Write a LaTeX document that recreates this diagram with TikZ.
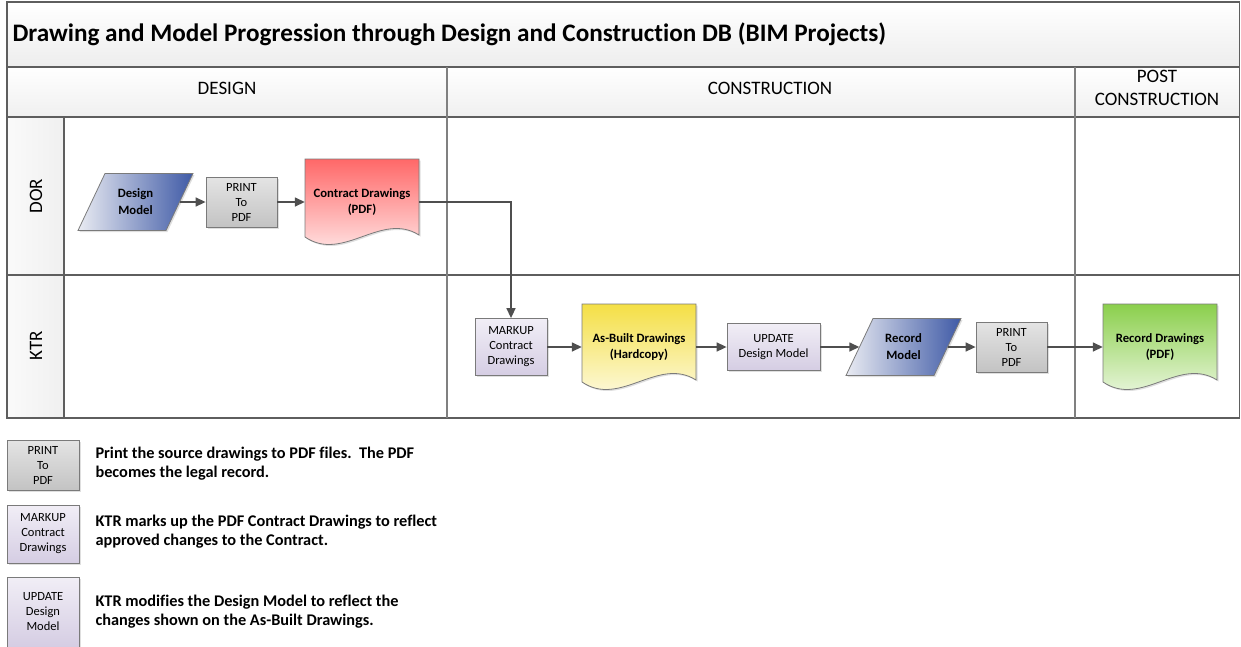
\documentclass[tikz,border=0pt]{standalone}
\usepackage{fontspec}
\setmainfont{Carlito}[Ligatures={TeX,NoCommon}]
\usetikzlibrary{arrows.meta,shadows}

\definecolor{framegray}{HTML}{5E5E5E}
\definecolor{boxline}{HTML}{7A7A7A}
\definecolor{flowgray}{HTML}{4F4F4F}
\definecolor{modellight}{HTML}{E9EBF2}
\definecolor{modeldark}{HTML}{3F5AA6}
\definecolor{printtop}{HTML}{E4E4E4}
\definecolor{printbot}{HTML}{C3C3C3}
\definecolor{edittop}{HTML}{F1EEF6}
\definecolor{editbot}{HTML}{D5CDE3}
\definecolor{pdfred}{HTML}{FF6868}
\definecolor{hardyellow}{HTML}{F4DF45}
\definecolor{recgreen}{HTML}{8BCF4C}

\newcommand{\docbox}[6]{%
                \shade[docline, top color=#4, bottom color=#4!8] (#2,#3) -- (#2+114,#3) -- (#2+114,#3+76)
                    .. controls (#2+76,#3+52) and (#2+38,#3+104) .. (#2,#3+78) -- cycle;
                \node (#1) at (#2+57,#3+43) [doctext] {\raisebox{9pt}{\begin{tabular}{@{}c@{}}#5\\#6\end{tabular}}};
}
\newcommand{\modelbox}[4]{%
                \shade[docline, left color=modellight, right color=modeldark] (#2-30.5,#3-28.5) -- (#2+57.5,#3-28.5)
                    -- (#2+30.5,#3+28.5) -- (#2-57.5,#3+28.5) -- cycle;
                \node (#1) at (#2,#3) [modeltext] {#4};
}

\begin{document}
\begin{tikzpicture}[x=1pt, y=-1pt,
                frame/.style={draw=framegray, line width=1.2pt},
                flow/.style={draw=flowgray, line width=1.5pt, -{Triangle[length=10pt,width=9pt]}},
                softshadow/.style={drop shadow={shadow xshift=1.5pt, shadow yshift=-1.5pt, opacity=0.25}},
                docline/.style={draw=boxline, line width=0.8pt, softshadow},
                stepbox/.style={draw=boxline, line width=0.8pt, top color=printtop, bottom color=printbot,
                    align=center, inner sep=0pt, font=\fontsize{12.5}{15}\selectfont, softshadow},
                editbox/.style={stepbox, top color=edittop, bottom color=editbot},
                doctext/.style={minimum width=114pt, minimum height=86pt, inner sep=0pt,
                    font=\bfseries\fontsize{12.7}{16}\selectfont},
                modeltext/.style={minimum width=88pt, minimum height=57pt, inner sep=0pt, align=center,
                    font=\bfseries\fontsize{12.7}{17}\selectfont},
                lanehead/.style={align=center, font=\fontsize{19}{23}\selectfont},
                legendtext/.style={anchor=west, align=left, font=\bfseries\fontsize{16.3}{19}\selectfont}]

                \useasboundingbox (0,0) rectangle (1241,646);

                \shade[top color=white, bottom color=gray!14] (7,2) rectangle (1239.5,67);
                \shade[top color=white, bottom color=gray!12] (7,67) rectangle (1239.5,117);
                \shade[left color=gray!4, right color=gray!12] (7,117) rectangle (64,418);
                \draw[frame] (7,2) rectangle (1239.5,418);
                \draw[frame] (7,67) -- (1239.5,67);
                \draw[frame] (7,117) -- (1239.5,117);
                \draw[frame] (7,275) -- (1239.5,275);
                \draw[frame] (64,117) -- (64,418);
                \draw[frame, draw=gray] (447,67) -- (447,418);
                \draw[frame, draw=gray] (1075,67) -- (1075,418);

                \node (title) at (9,34) [anchor=west, font=\bfseries\fontsize{25.2}{30}\selectfont]
                    {Drawing and Model Progression through Design and Construction DB (BIM Projects)};
                \node (design) at (227,88) [lanehead] {DESIGN};
                \node (construction) at (770,88) [lanehead] {CONSTRUCTION};
                \node (post) at (1157,88) [lanehead] {POST\\CONSTRUCTION};
                \node (dor) at (36,196) [lanehead, rotate=90] {DOR};
                \node (ktr) at (36,346) [lanehead, rotate=90] {KTR};

                \modelbox{dm}{135.5}{202}{Design\\Model}
                \node (p1) at (241.5,202) [stepbox, minimum width=71pt, minimum height=50pt] {PRINT\\To\\PDF};
                \docbox{cd}{305}{159}{pdfred}{Contract Drawings}{(PDF)}

                \node (mk) at (511,347) [editbox, minimum width=72pt, minimum height=57pt] {MARKUP\\Contract\\Drawings};
                \docbox{ab}{582}{304}{hardyellow}{As-Built Drawings}{(Hardcopy)}
                \node (up) at (773.5,347) [editbox, minimum width=93pt, minimum height=47pt] {UPDATE\\Design Model};
                \modelbox{rm}{903.5}{347}{Record\\Model}
                \node (p2) at (1011.5,347) [stepbox, minimum width=71pt, minimum height=50pt] {PRINT\\To\\PDF};
                \docbox{rd}{1103}{304}{recgreen}{Record Drawings}{(PDF)}

                \draw[flow] (dm.east) -- (p1.west);
                \draw[flow] (p1.east) -- (cd.west);
                \draw[flow] (cd.east) -| (mk.north);
                \draw[flow] (mk.east) -- (ab.west);
                \draw[flow] (ab.east) -- (up.west);
                \draw[flow] (up.east) -- (rm.west);
                \draw[flow] (rm.east) -- (p2.west);
                \draw[flow] (p2.east) -- (rd.west);

                \node (lg1) at (43,465) [stepbox, minimum width=72pt, minimum height=50pt] {PRINT\\To\\PDF};
                \node (lt1) at (92,464) [legendtext] {Print the source drawings to PDF files.\ \ The PDF\\becomes the legal record.};
                \node (lg2) at (43,534) [editbox, minimum width=72pt, minimum height=58pt] {MARKUP\\Contract\\Drawings};
                \node (lt2) at (92,532) [legendtext] {KTR marks up the PDF Contract Drawings to reflect\\approved changes to the Contract.};
                \node (lg3) at (43,612) [editbox, minimum width=72pt, minimum height=70pt] {UPDATE\\Design\\Model};
                \node (lt3) at (92,612) [legendtext] {KTR modifies the Design Model to reflect the\\changes shown on the As-Built Drawings.};
\end{tikzpicture}
\end{document}
